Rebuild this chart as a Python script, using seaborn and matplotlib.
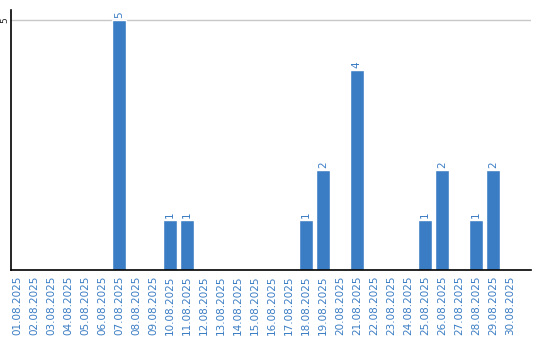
import matplotlib
matplotlib.use("Agg")
import matplotlib.pyplot as plt
import seaborn as sns
import pandas as pd

dates = [f"{d:02d}.08.2025" for d in range(1, 31)]
values = [0, 0, 0, 0, 0, 0, 5, 0, 0, 1, 1, 0, 0, 0, 0, 0, 0, 1, 2, 0, 4, 0, 0, 0, 1, 2, 0, 1, 2, 0]

df = pd.DataFrame({"date": dates, "value": values})

sns.set_style("white")
plt.rcParams['font.family'] = ['DejaVu Sans']

fig = plt.figure(figsize=(5.4, 3.4), dpi=100)
ax = fig.add_axes([11/540, 1 - 270/340, 520/540, 260/340])

bar_color = "#3b7dc4"
sns.barplot(data=df, x="date", y="value", order=dates, color=bar_color,
            width=0.82, saturation=1, ax=ax, zorder=2)

ax.set_xlim(-0.35, 30.24)
ax.set_ylim(0, 5.2)
ax.set_yticks([5])
ax.set_yticklabels(["5"], rotation=90, va="center", fontsize=6.5)
ax.tick_params(axis="y", length=0, pad=1.5)
ax.tick_params(axis="x", length=0, pad=4, labelsize=7.5, labelcolor=bar_color)
for lab in ax.get_xticklabels():
    lab.set_rotation(90)
ax.set_xlabel("")
ax.set_ylabel("")
ax.axhline(5, color="#c8c8c8", lw=1, zorder=1)

for s in ["top", "right"]:
    ax.spines[s].set_visible(False)
for s in ["left", "bottom"]:
    ax.spines[s].set_color("black")
    ax.spines[s].set_linewidth(1.2)

for i, v in enumerate(values):
    if v > 0:
        ax.text(i, v + 0.04, str(v), rotation=90, ha="center", va="bottom",
                fontsize=7.5, color=bar_color)

fig.savefig("out.png", dpi=100)
